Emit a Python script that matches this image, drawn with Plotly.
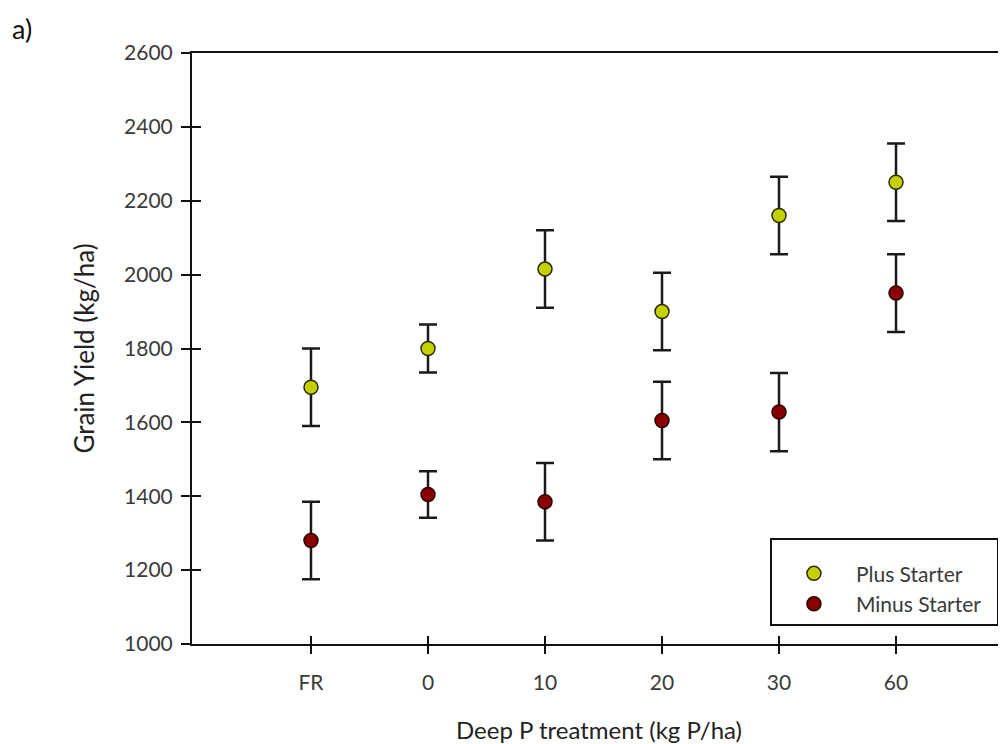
import plotly.graph_objects as go

categories = ["FR", "0", "10", "20", "30", "60"]
plus_starter = [1695, 1800, 2015, 1900, 2160, 2250]
plus_err = [105, 65, 105, 105, 105, 105]
minus_starter = [1280, 1405, 1385, 1605, 1628, 1950]
minus_err = [105, 63, 105, 105, 106, 105]
y_ticks = [1000, 1200, 1400, 1600, 1800, 2000, 2200, 2400, 2600]

xpos = list(range(len(categories)))
FONT = "Lato"
TXT = "#3a3a3a"

fig = go.Figure()
fig.add_trace(go.Scatter(
    x=xpos, y=plus_starter, mode="markers", name="Plus Starter",
    marker=dict(size=14, color="#c4d000", line=dict(color="#2a2a00", width=1.5)),
    error_y=dict(type="data", array=plus_err, visible=True, color="#1a1a1a", thickness=2.5, width=9),
))
fig.add_trace(go.Scatter(
    x=xpos, y=minus_starter, mode="markers", name="Minus Starter\u00a0\u00a0",
    marker=dict(size=14, color="#8a0000", line=dict(color="#2a0000", width=1.5)),
    error_y=dict(type="data", array=minus_err, visible=True, color="#1a1a1a", thickness=2.5, width=9),
))
# invisible trace to activate overlay axes (inside tick halves)
fig.add_trace(go.Scatter(x=[xpos[0]], y=[y_ticks[0]], xaxis="x2", yaxis="y2",
                         mode="markers", marker=dict(opacity=0), showlegend=False, hoverinfo="skip"))

xr = [-1.017, 5.94]
yr = [1000, 2600]
fig.update_layout(
    width=1006, height=744,
    margin=dict(l=184, r=8, t=45, b=108),
    paper_bgcolor="white", plot_bgcolor="white",
    font=dict(family=FONT, color=TXT),
    xaxis=dict(range=xr, tickvals=xpos, ticktext=categories, showgrid=False, zeroline=False,
               showline=True, linecolor="#111", linewidth=2, mirror=True,
               ticks="outside", ticklen=8, tickwidth=2, tickcolor="#111",
               tickfont=dict(size=21, color=TXT), ticklabelstandoff=11,
               title=dict(text="Deep P treatment (kg P/ha)", font=dict(size=24, color="#222"), standoff=29)),
    yaxis=dict(range=yr, tickvals=y_ticks, showgrid=False, zeroline=False,
               showline=True, linecolor="#111", linewidth=2,
               ticks="outside", ticklen=9, tickwidth=2, tickcolor="#111",
               tickfont=dict(size=21, color=TXT), ticklabelstandoff=4,
               title=dict(text="Grain Yield (kg/ha)", font=dict(size=26, color="#222"), standoff=22)),
    xaxis2=dict(range=xr, overlaying="x", tickvals=xpos, showticklabels=False, showgrid=False,
                zeroline=False, ticks="inside", ticklen=8, tickwidth=2, tickcolor="#111"),
    yaxis2=dict(range=yr, overlaying="y", tickvals=y_ticks, showticklabels=False, showgrid=False,
                zeroline=False, ticks="inside", ticklen=9, tickwidth=2, tickcolor="#111"),
    legend=dict(x=0.71, y=0.179, xanchor="left", yanchor="top",
                bordercolor="#111", borderwidth=2, bgcolor="white",
                font=dict(size=21, color=TXT, family=FONT),
                title=dict(text=" ", font=dict(size=10)),
                itemwidth=74, tracegroupgap=0),
    showlegend=True,
)
fig.add_annotation(text="a)", xref="paper", yref="paper", x=-0.2236, y=1.042,
                   xanchor="left", yanchor="middle", showarrow=False,
                   font=dict(size=27, color="#111", family=FONT))
fig.write_html("out.html")
